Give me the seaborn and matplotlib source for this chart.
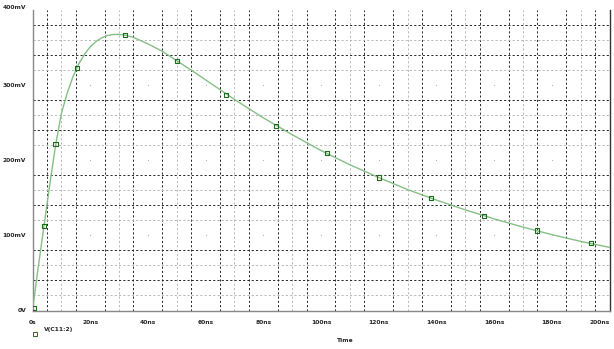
import numpy as np
import pandas as pd
import matplotlib
matplotlib.use("Agg")
import matplotlib.pyplot as plt
import seaborn as sns
from matplotlib.lines import Line2D

# ---- data ----
time_ns = [0, 2, 4, 6, 8, 10, 12, 14, 16, 18, 20, 22, 24, 26, 28, 30, 32, 35,
           40, 45, 50, 55, 60, 70, 80, 90, 100, 110, 120, 130, 140, 150, 160,
           170, 180, 190, 200]
voltage_mv = [0, 58, 113, 168, 220, 262, 289, 311, 328, 341, 351, 358, 363,
              366, 367.4, 367.5, 366.6, 363.5, 355, 345, 332.5, 320, 307, 281,
              256.5, 234, 213, 194, 177, 161, 147, 134, 122, 111, 101, 92, 84]
marker_t = [0.5, 4, 8, 15.3, 32, 50, 67, 84.4, 102.2, 120, 138.2, 156.6, 175, 193.6]
marker_v = [3, 113, 222, 323, 367, 332, 287, 246, 209.6, 177, 149.6, 126, 106.4, 90]
x_ticks = [0, 20, 40, 60, 80, 100, 120, 140, 160, 180, 200]
x_labels = ["0s", "20ns", "40ns", "60ns", "80ns", "100ns", "120ns", "140ns",
            "160ns", "180ns", "200ns"]
y_ticks = [0, 100, 200, 300, 400]
y_labels = ["0V", "100mV", "200mV", "300mV", "400mV"]
series_name = "V(C11:2)"
x_title = "Time"

sns.set_style("white")
plt.rcParams["font.family"] = ["DejaVu Sans"]

fig = plt.figure(figsize=(6.14, 3.49), dpi=100)
ax = fig.add_axes([32.5 / 614, 1 - 310.5 / 349, (609.5 - 32.5) / 614, (310.5 - 10) / 349])

# grid: minor lines every 5ns / 20mV, none on major positions
for t in np.arange(5, 200, 5):
    if t % 20 == 0:
        continue
    col = "#b8b8b8" if t % 20 == 10 else "#262626"
    ax.axvline(t, color=col, lw=0.7, dashes=(2.2, 2.2), zorder=0)
for v in np.arange(20, 400, 20):
    if v % 100 == 0:
        continue
    col = "#b8b8b8" if v % 100 in (20, 60) else "#262626"
    ax.axhline(v, color=col, lw=0.7, dashes=(2.2, 2.2), zorder=0)

# dots at major grid intersections
gx, gy = np.meshgrid(x_ticks[1:-1], y_ticks[1:-1])
ax.scatter(gx.ravel(), gy.ravel(), s=0.8, color="#b0b0b0", zorder=1, linewidths=0)

df = pd.DataFrame({"t": time_ns, "v": voltage_mv})
sns.lineplot(data=df, x="t", y="v", ax=ax, color="#86bf86", lw=1.0, zorder=3)
dm = pd.DataFrame({"t": marker_t, "v": marker_v})
sns.scatterplot(data=dm, x="t", y="v", ax=ax, marker="s", s=9,
                facecolor="none", edgecolor="#1d6b1d", linewidth=0.8, zorder=4)

ax.set_xlim(0, 200)
ax.set_ylim(0, 400)
ax.set_xticks(x_ticks)
ax.set_xticklabels(x_labels)
ax.set_yticks(y_ticks)
ax.set_yticklabels(y_labels)
ax.set_xlabel("")
ax.set_ylabel("")
ax.tick_params(axis="x", which="major", direction="out", length=4, width=0.8,
               color="#555555", labelsize=4.3, pad=3)
ax.tick_params(axis="y", which="major", direction="out", length=3, width=0.8,
               color="#555555", labelsize=4.3, pad=1.5)
for lab in ax.get_xticklabels() + ax.get_yticklabels():
    lab.set_fontweight("bold")
ax.get_xticklabels()[-1].set_horizontalalignment("right")
ax.get_xticklabels()[-1].set_x(200)
ax.get_yticklabels()[-1].set_verticalalignment("bottom")

for side in ["left", "bottom"]:
    ax.spines[side].set_color("#888888")
    ax.spines[side].set_linewidth(1.0)
ax.spines["right"].set_color("#333333")
ax.spines["right"].set_linewidth(1.0)
ax.spines["top"].set_visible(False)

fig.text(345 / 614, 1 - 341 / 349, x_title, ha="center", va="center",
         fontsize=4.3, fontweight="bold")
fig.add_artist(Line2D([35 / 614], [1 - 334 / 349], marker="s", markersize=2.6,
                      markerfacecolor="none", markeredgecolor="#1d6b1d",
                      markeredgewidth=0.7, linestyle="none",
                      transform=fig.transFigure))
fig.text(44 / 614, 1 - 330 / 349, series_name, ha="left", va="center",
         fontsize=4.3, fontweight="bold")

fig.savefig("out.png", dpi=100)
